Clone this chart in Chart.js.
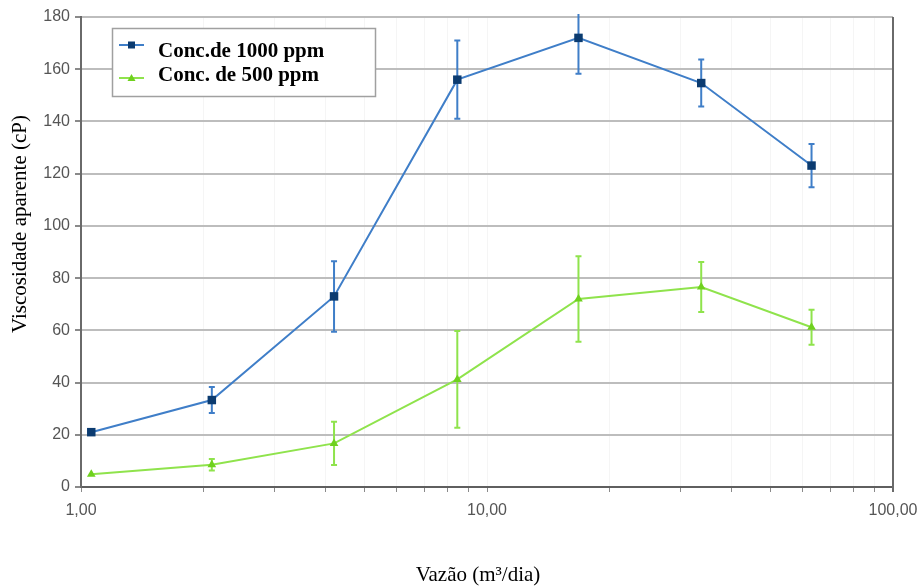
<!DOCTYPE html>
<html>
<head>
<meta charset="utf-8">
<script src="https://cdn.jsdelivr.net/npm/chart.js@4"></script>
<style>
  html, body { margin: 0; padding: 0; background: #fff; }
  #wrap { width: 920px; height: 587px; }
</style>
</head>
<body>
<div id="wrap"><canvas id="viscChart" width="920" height="587"></canvas></div>
<script>
// flow rate (m3/dia), shared by both series
const flowRates = [1.06, 2.1, 4.2, 8.45, 16.8, 33.7, 63];

const conc1000 = [21, 33.3, 73, 156, 172, 154.7, 123.1];
const conc1000Err = [0, 5, 13.5, 15, 13.7, 9, 8.3];

const conc500 = [4.9, 8.5, 16.7, 41.2, 72, 76.6, 61.2];
const conc500Err = [0, 2.2, 8.3, 18.5, 16.4, 9.6, 6.7];

const seriesNames = ['Conc.de 1000 ppm', 'Conc. de 500 ppm'];
const yTicks = [0, 20, 40, 60, 80, 100, 120, 140, 160, 180];
const xMajor = [1, 10, 100];

const BLUE_LINE = '#3f7ec8';
const BLUE_MARK = '#0b3b70';
const GREEN_LINE = '#8fe34c';
const GREEN_MARK = '#6fd11e';

// error bars drawn from the scales, under the markers
const errorBars = {
  id: 'errorBars',
  beforeDatasetsDraw(chart) {
    const { ctx, chartArea, scales: { x, y } } = chart;
    ctx.save();
    ctx.beginPath();
    ctx.rect(chartArea.left, chartArea.top - 3, chartArea.width, chartArea.height + 3);
    ctx.clip();
    chart.data.datasets.forEach(ds => {
      ctx.strokeStyle = ds.borderColor;
      ctx.lineWidth = 2;
      ds.data.forEach((p, i) => {
        const e = ds.errors[i];
        if (!e) return;
        const px = x.getPixelForValue(p.x);
        const top = y.getPixelForValue(p.y + e);
        const bot = y.getPixelForValue(p.y - e);
        ctx.beginPath();
        ctx.moveTo(px, top); ctx.lineTo(px, bot);
        ctx.moveTo(px - 3, top); ctx.lineTo(px + 3, top);
        ctx.moveTo(px - 3, bot); ctx.lineTo(px + 3, bot);
        ctx.stroke();
      });
    });
    ctx.restore();
  }
};

// frame, axis titles and the boxed legend
const decorations = {
  id: 'decorations',
  afterDraw(chart) {
    const { ctx, chartArea } = chart;
    ctx.save();
    ctx.strokeStyle = '#6a6a6a';
    ctx.lineWidth = 2;
    ctx.beginPath();
    ctx.moveTo(chartArea.right, chartArea.top);
    ctx.lineTo(chartArea.right, chartArea.bottom + 5);
    ctx.stroke();

    ctx.fillStyle = '#000';
    ctx.font = '21px "Liberation Serif", "Times New Roman", serif';
    ctx.textAlign = 'center';
    ctx.textBaseline = 'middle';
    ctx.fillText('Vazão (m³/dia)', 478, 575);
    ctx.save();
    ctx.translate(20, 224);
    ctx.rotate(-Math.PI / 2);
    ctx.fillText('Viscosidade aparente (cP)', 0, 0);
    ctx.restore();

    // legend box
    ctx.fillStyle = '#fff';
    ctx.fillRect(112, 28, 263, 68);
    ctx.strokeStyle = '#a0a0a0';
    ctx.lineWidth = 1.5;
    ctx.strokeRect(112.5, 28.5, 263, 68);
    const rows = [
      { y: 45, base: 57, line: BLUE_LINE, mark: BLUE_MARK, style: 'rect' },
      { y: 78, base: 81, line: GREEN_LINE, mark: GREEN_MARK, style: 'triangle' }
    ];
    rows.forEach((r, i) => {
      ctx.strokeStyle = r.line;
      ctx.lineWidth = 2;
      ctx.beginPath();
      ctx.moveTo(119, r.y); ctx.lineTo(144, r.y);
      ctx.stroke();
      ctx.fillStyle = r.mark;
      if (r.style === 'rect') {
        ctx.fillRect(128, r.y - 3.5, 7, 7);
      } else {
        ctx.beginPath();
        ctx.moveTo(131.5, r.y - 4); ctx.lineTo(135.5, r.y + 3); ctx.lineTo(127.5, r.y + 3);
        ctx.closePath();
        ctx.fill();
      }
      ctx.fillStyle = '#000';
      ctx.font = 'bold 21px "Liberation Serif", "Times New Roman", serif';
      ctx.textAlign = 'left';
      ctx.textBaseline = 'alphabetic';
      ctx.fillText(seriesNames[i], 158, r.base);
    });
    ctx.restore();
  }
};

const ctx = document.getElementById('viscChart').getContext('2d');
new Chart(ctx, {
  type: 'line',
  data: {
    datasets: [
      {
        label: seriesNames[0],
        data: flowRates.map((x, i) => ({ x, y: conc1000[i] })),
        errors: conc1000Err,
        borderColor: BLUE_LINE,
        borderWidth: 2,
        pointStyle: 'rect',
        pointRadius: 6,
        pointBackgroundColor: BLUE_MARK,
        pointBorderColor: BLUE_MARK,
        pointBorderWidth: 0,
        tension: 0
      },
      {
        label: seriesNames[1],
        data: flowRates.map((x, i) => ({ x, y: conc500[i] })),
        errors: conc500Err,
        borderColor: GREEN_LINE,
        borderWidth: 2,
        pointStyle: 'triangle',
        pointRadius: 5,
        pointBackgroundColor: GREEN_MARK,
        pointBorderColor: GREEN_MARK,
        pointBorderWidth: 0,
        tension: 0
      }
    ]
  },
  options: {
    responsive: false,
    animation: false,
    layout: { padding: { left: 0, right: 27, top: 17, bottom: 0 } },
    plugins: {
      legend: { display: false },
      tooltip: { enabled: false }
    },
    scales: {
      x: {
        type: 'logarithmic',
        min: 1,
        max: 100,
        afterFit(scale) {
          scale.height = 100;
          scale.paddingLeft = 0;
          scale.paddingRight = 0;
        },
        afterBuildTicks(scale) {
          const t = [];
          for (let d = 1; d < 100; d *= 10) {
            for (let k = 1; k < 10; k++) t.push({ value: k * d });
          }
          t.push({ value: 100 });
          scale.ticks = t;
        },
        ticks: {
          autoSkip: false,
          maxRotation: 0,
          padding: 9,
          color: '#555',
          font: { family: '"Liberation Sans", Arial, sans-serif', size: 16 },
          callback: v => xMajor.includes(v) ? v.toFixed(2).replace('.', ',') : ''
        },
        grid: {
          color: '#f5f5f5',
          lineWidth: 1,
          tickLength: 5,
          tickColor: '#8a8a8a'
        },
        border: { color: '#5f5f5f', width: 2 }
      },
      y: {
        min: 0,
        max: 180,
        afterFit(scale) {
          scale.width = 81;
          scale.paddingTop = 0;
          scale.paddingBottom = 0;
        },
        afterBuildTicks(scale) { scale.ticks = yTicks.map(v => ({ value: v })); },
        ticks: {
          padding: 5,
          color: '#555',
          font: { family: '"Liberation Sans", Arial, sans-serif', size: 16 }
        },
        grid: {
          color: '#bdbdbd',
          lineWidth: 2,
          tickLength: 6,
          tickColor: '#8a8a8a'
        },
        border: { color: '#6a6a6a', width: 2 }
      }
    }
  },
  plugins: [errorBars, decorations]
});
</script>
</body>
</html>
